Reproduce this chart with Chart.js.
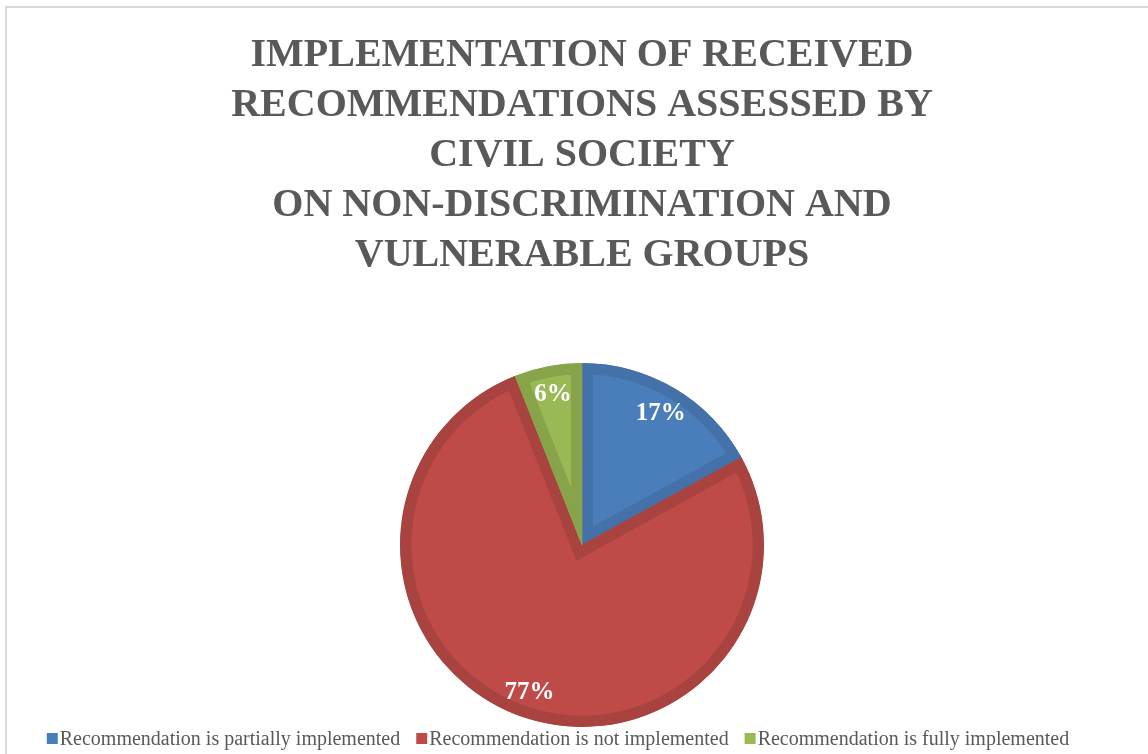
<!DOCTYPE html>
<html lang="en">
<head>
<meta charset="UTF-8">
<title>Implementation of received recommendations</title>
<style>
  html, body {
    margin: 0;
    padding: 0;
    background: #fff;
    overflow: hidden;
  }

  #frame {
    position: absolute;
    left: 5px;
    top: 6px;
    width: 1300px;
    height: 900px;
    border: 2px solid #d9d9d9;
  }

  #wrap {
    position: absolute;
    left: 0;
    top: 0;
    width: 1148px;
    height: 754px;
  }
</style>
</head>
<body>

<div id="frame"></div>
<div id="wrap"><canvas id="pieChart"></canvas></div>

<script src="https://cdn.jsdelivr.net/npm/chart.js@4.4.1/dist/chart.umd.min.js"></script>
<script>
    var titleLines = [
        'IMPLEMENTATION OF RECEIVED',
        'RECOMMENDATIONS ASSESSED BY',
        'CIVIL SOCIETY',
        'ON NON-DISCRIMINATION AND',
        'VULNERABLE GROUPS'
    ];
    var categories = [
        'Recommendation is partially implemented',
        'Recommendation is not implemented',
        'Recommendation is fully implemented'
    ];
    var shares = [17, 77, 6];

    var fillColors = ['#4a7ebb', '#be4b48', '#98b954'];
    var edgeColors = ['#4571a9', '#a8433f', '#87a44a'];
    var textGrey = '#595959';
    var serif = '"Liberation Serif", "Times New Roman", serif';

    // percentage labels near the rim of each slice
    var sliceLabels = {
        id: 'sliceLabels',
        afterDatasetsDraw: function(chart) {
            var ctx = chart.ctx;
            var meta = chart.getDatasetMeta(0);
            ctx.save();
            ctx.font = 'bold 25px ' + serif;
            ctx.fillStyle = '#ffffff';
            ctx.textAlign = 'center';
            ctx.textBaseline = 'middle';
            meta.data.forEach(function(arc, i) {
                var p = arc.getProps(['x', 'y', 'startAngle', 'endAngle', 'outerRadius'], true);
                var mid = (p.startAngle + p.endAngle) / 2;
                var r = p.outerRadius * 0.85;
                ctx.fillText(shares[i] + '%', p.x + Math.cos(mid) * r, p.y + Math.sin(mid) * r + 2);
            });
            ctx.restore();
        }
    };

    // legend drawn by hand: small square, tight gap, then text
    var bottomLegend = {
        id: 'bottomLegend',
        afterDraw: function(chart) {
            var ctx = chart.ctx;
            var box = 11, gap = 2, spacing = 16;
            var centerX = 558, baseline = 745;
            ctx.save();
            ctx.font = '20px ' + serif;
            ctx.textBaseline = 'alphabetic';
            ctx.textAlign = 'left';
            var widths = categories.map(function(c) { return ctx.measureText(c).width; });
            var total = spacing * (categories.length - 1);
            widths.forEach(function(w) { total += box + gap + w; });
            var x = centerX - total / 2;
            categories.forEach(function(c, i) {
                ctx.fillStyle = fillColors[i];
                ctx.fillRect(x, baseline - 12, box, box);
                ctx.fillStyle = textGrey;
                ctx.fillText(c, x + box + gap, baseline);
                x += box + gap + widths[i] + spacing;
            });
            ctx.restore();
        }
    };

    var ctx = document.getElementById('pieChart').getContext('2d');
    var pieChart = new Chart(ctx, {
        type: 'pie',
        data: {
            labels: categories,
            datasets: [{
                data: shares,
                backgroundColor: fillColors,
                borderColor: edgeColors,
                borderWidth: 11,
                borderAlign: 'inner',
                borderJoinStyle: 'miter'
            }]
        },
        options: {
            responsive: true,
            maintainAspectRatio: false,
            animation: false,
            layout: {
                padding: { left: 16, right: 0, top: 0, bottom: 27 }
            },
            plugins: {
                legend: { display: false },
                tooltip: { enabled: false },
                title: {
                    display: true,
                    text: titleLines,
                    color: textGrey,
                    font: { family: serif, size: 40, weight: 'bold', lineHeight: 1.25 },
                    padding: { top: 31, bottom: 82 }
                }
            }
        },
        plugins: [sliceLabels, bottomLegend]
    });
</script>

</body>
</html>
